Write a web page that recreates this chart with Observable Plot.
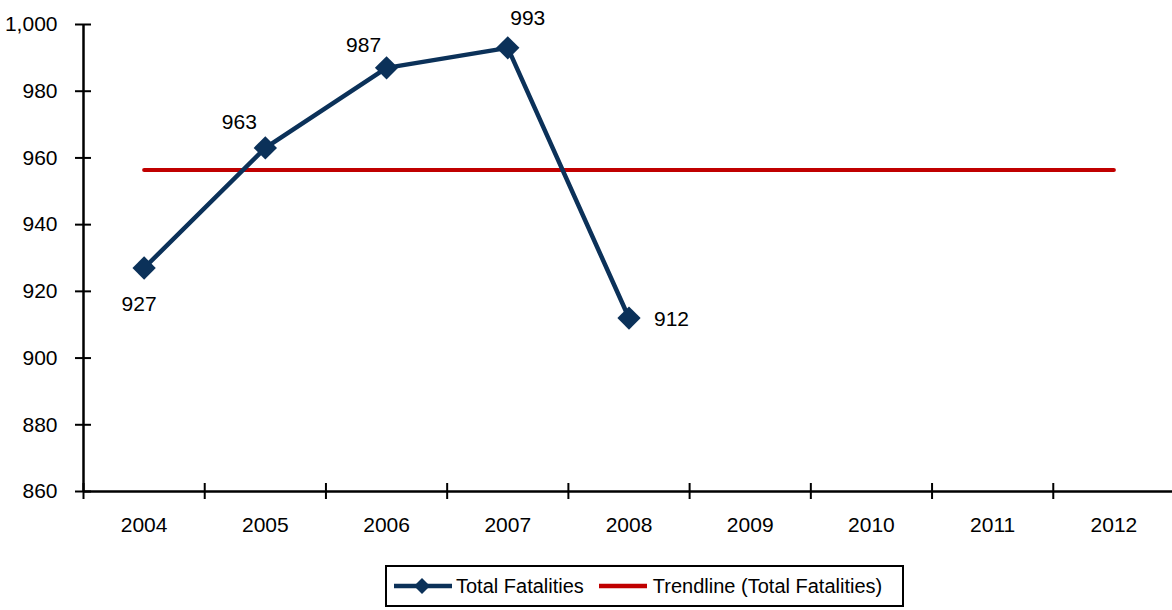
<!DOCTYPE html>
<html>
<head>
<meta charset="utf-8">
<script src="https://cdn.jsdelivr.net/npm/d3@7"></script>
<script src="https://cdn.jsdelivr.net/npm/@observablehq/plot@0.6"></script>
<style>
  html, body { margin: 0; padding: 0; background: #fff; }
  body { width: 1172px; height: 610px; overflow: hidden; font-family: "Liberation Sans", Arial, sans-serif; }
  #legend { position: absolute; left: 385px; top: 565px; height: 38px; padding-right: 20px; border: 2px solid #000; display: flex; align-items: center; font-size: 20px; color: #000; white-space: nowrap; }
  #legend .item { display: flex; align-items: center; }
  #legend svg { display: block; }
</style>
</head>
<body>
<div id="chart"></div>
<div id="legend"></div>
<script>
const years = [2004, 2005, 2006, 2007, 2008, 2009, 2010, 2011, 2012];
const dataYears = [2004, 2005, 2006, 2007, 2008];
const totalFatalities = [927, 963, 987, 993, 912];
const trendYears = [2004, 2012];
const trendValues = [956.4, 956.4];
const yTicks = [860, 880, 900, 920, 940, 960, 980, 1000];
const xBoundaryTicks = [2003.5, 2004.5, 2005.5, 2006.5, 2007.5, 2008.5, 2009.5, 2010.5, 2011.5, 2012.5];

const navy = "#0b3159";
const red = "#c00000";
const font = "'Liberation Sans', Arial, sans-serif";

const series = dataYears.map((y, i) => ({year: y, value: totalFatalities[i]}));
const trend = trendYears.map((y, i) => ({year: y, value: trendValues[i]}));

const labelText = (filterYear, dx, dy, anchor = "middle") => Plot.text(series.filter(d => d.year === filterYear), {
  x: "year", y: "value", text: d => String(d.value), dx, dy, textAnchor: anchor,
  fontSize: 21, fill: "#000"
});

const chart = Plot.plot({
  width: 1172,
  height: 552,
  marginTop: 24,
  marginLeft: 83,
  marginRight: 0,
  marginBottom: 61,
  style: {fontFamily: font, fontSize: "21px", color: "#000", background: "#fff"},
  x: {type: "linear", domain: [2003.5, 2012.5], range: [83, 1174]},
  y: {domain: [860, 1000]},
  marks: [
    Plot.axisY({ticks: yTicks, tickSize: 0, tickPadding: 26, tickFormat: d3.format(","), fontSize: 21, label: null}),
    Plot.axisY({ticks: yTicks, tickSize: 16, dx: 8, strokeWidth: 2, tickFormat: () => "", label: null}),
    Plot.axisX({ticks: years, tickSize: 0, tickPadding: 26, tickFormat: d => String(d), fontSize: 21, label: null}),
    Plot.axisX({ticks: xBoundaryTicks, tickSize: 16, dy: -8, strokeWidth: 2, tickFormat: () => "", label: null}),
    Plot.ruleY([860], {stroke: "#000", strokeWidth: 2.5}),
    Plot.ruleX([2003.5], {stroke: "#000", strokeWidth: 2.5}),
    Plot.line(trend, {x: "year", y: "value", stroke: red, strokeWidth: 4}),
    Plot.line(series, {x: "year", y: "value", stroke: navy, strokeWidth: 4.5}),
    Plot.dot(series, {x: "year", y: "value", symbol: "diamond2", r: 10.5, fill: navy, stroke: null}),
    labelText(2004, -5, 36),
    labelText(2005, -26, -26),
    labelText(2006, -23, -23),
    labelText(2007, 20, -30),
    labelText(2008, 25, 1, "start")
  ]
});
document.getElementById("chart").appendChild(chart);

const legend = document.getElementById("legend");
legend.innerHTML = `
  <div class="item" style="margin-left:6px">
    <svg width="60" height="24"><line x1="1" y1="12" x2="59" y2="12" stroke="${navy}" stroke-width="4.5"/>
      <path d="M29,4 L37,12 L29,20 L21,12 Z" fill="${navy}"/></svg>
    <span style="margin-left:3px">Total Fatalities</span>
  </div>
  <div class="item" style="margin-left:14px">
    <svg width="50" height="24"><line x1="1" y1="12" x2="49" y2="12" stroke="${red}" stroke-width="4.5"/></svg>
    <span style="margin-left:5px">Trendline (Total Fatalities)</span>
  </div>`;
</script>
</body>
</html>
